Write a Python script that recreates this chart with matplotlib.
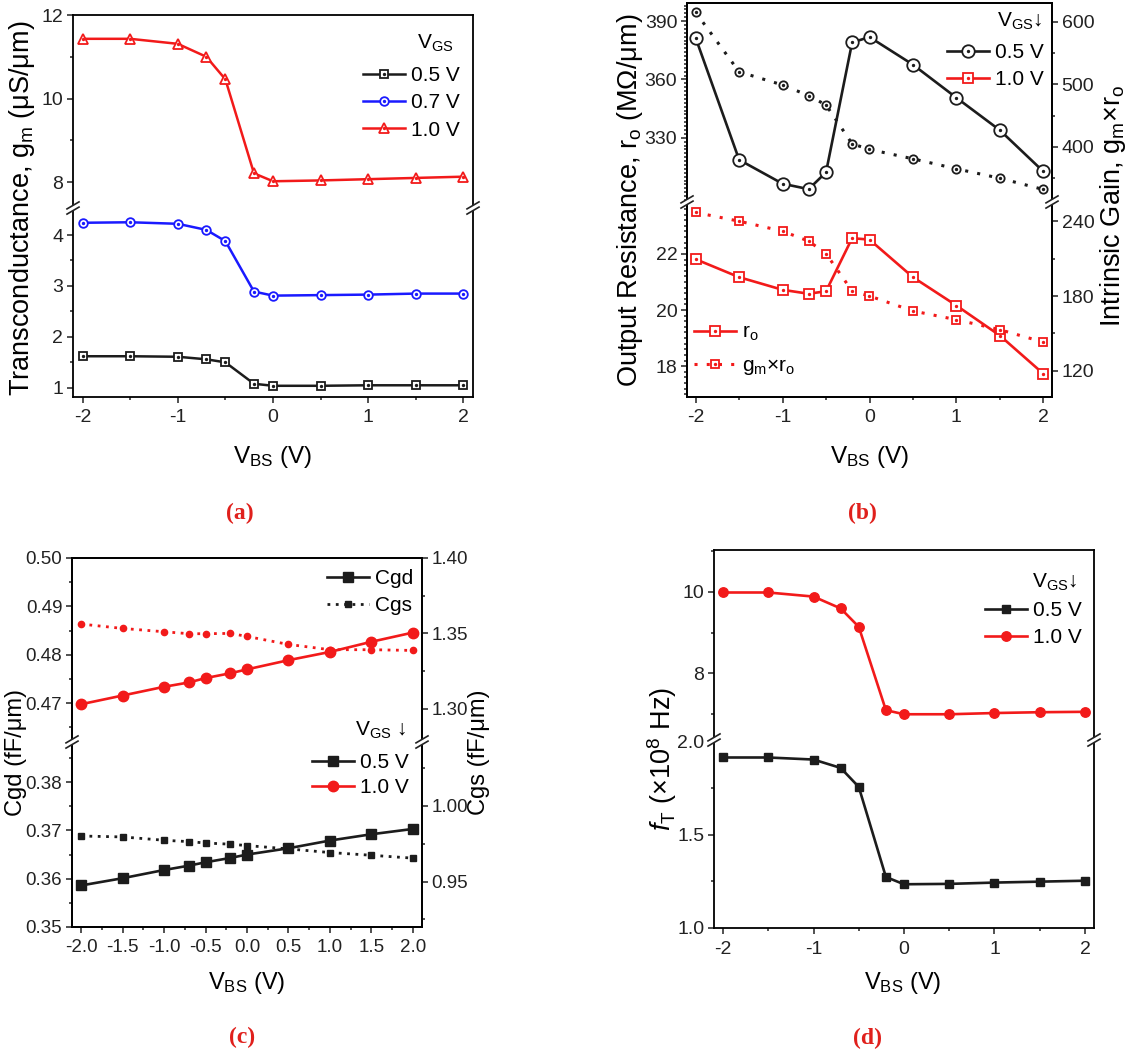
import matplotlib
matplotlib.use("Agg")
import matplotlib.pyplot as plt
from matplotlib.lines import Line2D
from matplotlib.ticker import MultipleLocator, FixedLocator, FormatStrFormatter

plt.rcParams['font.family'] = ['Liberation Sans', 'DejaVu Sans']
plt.rcParams['mathtext.fontset'] = 'custom'
plt.rcParams['mathtext.rm'] = 'Liberation Sans'
plt.rcParams['mathtext.it'] = 'Liberation Sans:italic'
plt.rcParams['mathtext.bf'] = 'Liberation Sans:bold'
plt.rcParams['mathtext.default'] = 'regular'
plt.rcParams['axes.unicode_minus'] = False

# body bias sweep (V)
vbs = [-2, -1.5, -1, -0.7, -0.5, -0.2, 0, 0.5, 1, 1.5, 2]

# (a) transconductance, uS/um
gm_05 = [1.62, 1.62, 1.61, 1.56, 1.50, 1.08, 1.04, 1.04, 1.05, 1.05, 1.05]
gm_07 = [4.24, 4.25, 4.22, 4.10, 3.88, 2.89, 2.81, 2.82, 2.83, 2.85, 2.85]
gm_10 = [11.43, 11.43, 11.31, 11.00, 10.46, 8.21, 8.02, 8.04, 8.07, 8.10, 8.13]

# (b) output resistance (MOhm/um) and intrinsic gain
ro_05 = [381.3, 318.7, 306.4, 303.6, 312.3, 379.0, 381.8, 367.6, 350.6, 333.9, 312.7]
gain_05 = [615, 520, 499, 482, 467, 405, 396, 381, 365, 350, 332]
ro_10 = [21.81, 21.17, 20.72, 20.58, 20.67, 22.56, 22.51, 21.17, 20.16, 19.09, 17.73]
gain_10 = [247, 240, 232, 224, 214, 184, 180, 168, 161, 153, 143]

# (c) gate capacitances, fF/um
cgd_10 = [0.4698, 0.4716, 0.4734, 0.4743, 0.4752, 0.4762, 0.4770, 0.4789, 0.4806, 0.4827, 0.4846]
cgs_10 = [1.3562, 1.3533, 1.3511, 1.3498, 1.3498, 1.3500, 1.3480, 1.3427, 1.3392, 1.3392, 1.3387]
cgd_05 = [0.3586, 0.3601, 0.3618, 0.3627, 0.3634, 0.3643, 0.3650, 0.3663, 0.3679, 0.3692, 0.3703]
cgs_05 = [0.9800, 0.9794, 0.9772, 0.9763, 0.9754, 0.9746, 0.9737, 0.9715, 0.9691, 0.9673, 0.9654]

# (d) cut-off frequency, x1e8 Hz
ft_05 = [1.916, 1.916, 1.905, 1.860, 1.758, 1.274, 1.235, 1.237, 1.244, 1.249, 1.254]
ft_10 = [9.98, 9.98, 9.88, 9.59, 9.14, 7.10, 7.00, 7.00, 7.03, 7.05, 7.06]

W, H = 1138, 1055
BLACK = '#1c1c1c'
RED = '#f21a1a'
BLUE = '#1a1aff'
TICK_FS = 14
LEG_FS = 15

fig = plt.figure(figsize=(W / 100, H / 100), dpi=100)


def fx(px):
    return px / W


def fy(py):
    return 1 - py / H


def style(ax, part, right=False):
    for s in ax.spines.values():
        s.set_linewidth(1.3)
    ax.tick_params(which='both', direction='out', top=False, labelsize=TICK_FS,
                   width=1.1, colors='#222222', pad=3)
    ax.tick_params(axis='x', pad=5)
    ax.tick_params(which='major', length=4)
    ax.tick_params(which='minor', length=2.5)
    if right:
        ax.tick_params(which='both', left=False, right=True)
    else:
        ax.tick_params(which='both', right=False)
    if part == 'top':
        ax.spines['bottom'].set_visible(False)
        ax.tick_params(axis='x', which='both', bottom=False, labelbottom=False)
    else:
        ax.spines['top'].set_visible(False)


def broken_axes(x0, x1, y_top, y_brk, y_bot, xlim):
    ax_t = fig.add_axes([fx(x0), fy(y_brk), (x1 - x0) / W, (y_brk - y_top) / H])
    ax_b = fig.add_axes([fx(x0), fy(y_bot), (x1 - x0) / W, (y_bot - y_brk) / H])
    for ax, part in ((ax_t, 'top'), (ax_b, 'bottom')):
        ax.set_facecolor('none')
        ax.set_xlim(*xlim)
        style(ax, part)
    return ax_t, ax_b


def twins(ax_t, ax_b):
    tt, tb = ax_t.twinx(), ax_b.twinx()
    style(tt, 'top', right=True)
    style(tb, 'bottom', right=True)
    return tt, tb


def break_mark(x, y):
    dx, dy, gap = 6, 3.5, 2.6
    fig.add_artist(Line2D([fx(x - dx), fx(x + dx)], [fy(y + dy), fy(y - dy)],
                          color='white', lw=3.2, zorder=20))
    for off in (-gap, gap):
        fig.add_artist(Line2D([fx(x - dx), fx(x + dx)], [fy(y + dy + off), fy(y - dy + off)],
                              color='#222222', lw=1.2, zorder=21))


def open_line(ax, y, color, marker, ms, ls='-', lw=1.8):
    ln, = ax.plot(vbs, y, color=color, ls=ls, lw=lw, marker=marker, ms=ms,
                  mfc='white', mec=color, mew=1.3)
    dt, = ax.plot(vbs, y, ls='none', marker='o', ms=1.4, color=color)
    return (ln, dt)


def filled_line(ax, y, color, marker, ms, ls='-', lw=1.9):
    ln, = ax.plot(vbs, y, color=color, ls=ls, lw=lw, marker=marker, ms=ms,
                  mfc=color, mec=color)
    return ln


def legend(ax, handles, labels, x, y, **kw):
    opts = dict(loc='upper left', bbox_to_anchor=(fx(x), fy(y)),
                bbox_transform=fig.transFigure, frameon=False, fontsize=LEG_FS,
                handlelength=2.0, handletextpad=0.3, labelspacing=0.4,
                borderpad=0, borderaxespad=0, numpoints=1)
    opts.update(kw)
    return ax.legend(handles, labels, **opts)


def x_axis(ax, major=1, minor=0.5, fmt='%g'):
    ax.xaxis.set_major_locator(MultipleLocator(major))
    ax.xaxis.set_minor_locator(MultipleLocator(minor))
    ax.xaxis.set_major_formatter(FormatStrFormatter(fmt))


def y_axis(ax, lim, major, minor, fmt='%g'):
    ax.set_ylim(*lim)
    ax.yaxis.set_major_locator(MultipleLocator(major))
    ax.yaxis.set_minor_locator(MultipleLocator(minor))
    ax.yaxis.set_major_formatter(FormatStrFormatter(fmt))


# ---------- (a) gm vs VBS ----------
a_t, a_b = broken_axes(73, 473, 15, 208, 397, (-2.1, 2.1))
y_axis(a_t, (7.38, 12.0), 2, 1)
y_axis(a_b, (0.82, 4.53), 1, 0.5)
x_axis(a_b)
h05 = open_line(a_b, gm_05, BLACK, 's', 5.2)
h07 = open_line(a_b, gm_07, BLUE, 'o', 6.2)
h10 = open_line(a_t, gm_10, RED, '^', 7.0)
fig.text(fx(435), fy(43), 'V$_{GS}$', fontsize=LEG_FS, ha='center', va='center')
legend(a_t, [h05, h07, h10], ['0.5 V', '0.7 V', '1.0 V'], 363, 66)
for xx in (73, 473):
    break_mark(xx, 208)
fig.text(fx(22), fy(208), 'Transconductance, g$_m$ (μS/μm)', rotation=90,
         fontsize=19.5, ha='center', va='center')
fig.text(fx(273), fy(457), 'V$_{BS}$ (V)', fontsize=17.5, ha='center', va='center')

# ---------- (b) ro and intrinsic gain ----------
b_t, b_b = broken_axes(687, 1052, 3, 202, 397, (-2.1, 2.1))
b_tr, b_br = twins(b_t, b_b)
y_axis(b_t, (297, 399.3), 30, 2)
b_t.yaxis.set_major_locator(FixedLocator([330, 360, 390]))
y_axis(b_b, (16.9, 23.85), 2, 0.2)
y_axis(b_tr, (312, 630), 100, 50)
y_axis(b_br, (99, 255.4), 60, 30)
x_axis(b_b)
hb05 = open_line(b_t, ro_05, BLACK, 'o', 9.0, lw=1.9)
open_line(b_tr, gain_05, BLACK, 'o', 6.0, ls=(0, (1, 3)), lw=2.2)
hb10 = open_line(b_b, ro_10, RED, 's', 7.0, lw=1.9)
hg10 = open_line(b_br, gain_10, RED, 's', 5.2, ls=(0, (1, 3)), lw=2.2)
fig.text(fx(1020), fy(21), 'V$_{GS}$↓', fontsize=LEG_FS, ha='center', va='center')
legend(b_tr, [hb05, hb10], ['0.5 V', '1.0 V'], 947, 43)
legend(b_br, [hb10, hg10], ['r$_o$', 'g$_m$×r$_o$'], 694, 323, labelspacing=0.6)
for xx in (687, 1052):
    break_mark(xx, 202)
fig.text(fx(630), fy(200), 'Output Resistance, r$_o$ (MΩ/μm)', rotation=90,
         fontsize=19.5, ha='center', va='center')
fig.text(fx(1113), fy(206), 'Intrinsic Gain, g$_m$×r$_o$', rotation=90,
         fontsize=19.5, ha='center', va='center')
fig.text(fx(870), fy(457), 'V$_{BS}$ (V)', fontsize=17.5, ha='center', va='center')

# ---------- (c) Cgd / Cgs ----------
c_t, c_b = broken_axes(72, 422, 558, 742, 927, (-2.11, 2.11))
c_tr, c_br = twins(c_t, c_b)
y_axis(c_t, (0.462, 0.50), 0.01, 0.005, '%.2f')
y_axis(c_b, (0.35, 0.3883), 0.01, 0.005, '%.2f')
y_axis(c_tr, (1.278, 1.40), 0.05, 0.025, '%.2f')
y_axis(c_br, (0.920, 1.042), 0.05, 0.025, '%.2f')
x_axis(c_b, 0.5, 0.25, '%.1f')
for ax in (c_t, c_b, c_tr, c_br):
    ax.tick_params(labelsize=13.5)
hc10 = filled_line(c_t, cgd_10, RED, 'o', 7.5)
filled_line(c_tr, cgs_10, RED, 'o', 4.5, ls=(0, (1, 2)), lw=2.0)
hc05 = filled_line(c_b, cgd_05, BLACK, 's', 6.5)
filled_line(c_br, cgs_05, BLACK, 's', 4.5, ls=(0, (1, 2)), lw=2.0)
hk_gd = Line2D([], [], color=BLACK, lw=1.9, marker='s', ms=6.5)
hk_gs = Line2D([], [], color=BLACK, lw=2.0, ls=(0, (1, 2)), marker='s', ms=4.5)
legend(c_tr, [hk_gd, hk_gs], ['Cgd', 'Cgs'], 327, 569)
fig.text(fx(381), fy(730), 'V$_{GS}$ ↓', fontsize=LEG_FS, ha='center', va='center')
legend(c_br, [hc05, hc10], ['0.5 V', '1.0 V'], 312, 753, labelspacing=0.3)
for xx in (72, 422):
    break_mark(xx, 742)
fig.text(fx(16), fy(752), 'Cgd (fF/μm)', rotation=90, fontsize=17, ha='center', va='center')
fig.text(fx(479), fy(752), 'Cgs (fF/μm)', rotation=90, fontsize=17, ha='center', va='center')
fig.text(fx(247), fy(983), 'V$_{BS}$ (V)', fontsize=17, ha='center', va='center')

# ---------- (d) fT ----------
d_t, d_b = broken_axes(714, 1094, 550, 740, 928, (-2.1, 2.1))
y_axis(d_t, (6.37, 11.02), 2, 1)
y_axis(d_b, (1.0, 2.01), 0.5, 0.25, '%.1f')
x_axis(d_b)
hd05 = filled_line(d_b, ft_05, BLACK, 's', 6.3)
hd10 = filled_line(d_t, ft_10, RED, 'o', 6.8)
fig.text(fx(1055), fy(582), 'V$_{GS}$↓', fontsize=LEG_FS, ha='center', va='center')
legend(d_t, [hd05, hd10], ['0.5 V', '1.0 V'], 985, 601)
for xx in (714, 1094):
    break_mark(xx, 740)
fig.text(fx(662), fy(759), r'$\mathit{f}_\mathrm{T}$ (×10$^8$ Hz)', rotation=90,
         fontsize=19.5, ha='center', va='center')
fig.text(fx(903), fy(983), 'V$_{BS}$ (V)', fontsize=17, ha='center', va='center')

# panel tags
for tag, x, y in (('(a)', 240, 513), ('(b)', 862, 513), ('(c)', 242, 1037), ('(d)', 867, 1038)):
    fig.text(fx(x), fy(y), tag, fontsize=17, fontweight='bold', color='#e0201c',
             family='Liberation Serif', ha='center', va='center')

fig.savefig('out.png', dpi=100)
